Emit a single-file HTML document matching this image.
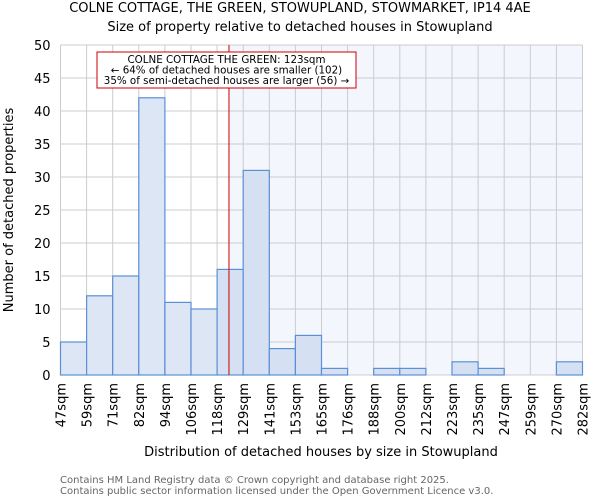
<!DOCTYPE html>
<html><head><meta charset="utf-8"><style>
body{margin:0;background:#fff;font-family:"DejaVu Sans","Liberation Sans",sans-serif}
</style></head><body>
<svg id="chart" width="600" height="500" viewBox="0 0 600 500" xmlns="http://www.w3.org/2000/svg" font-family="DejaVu Sans, Liberation Sans, sans-serif">
<text x="300" y="12" text-anchor="middle" font-size="13">COLNE COTTAGE, THE GREEN, STOWUPLAND, STOWMARKET, IP14 4AE</text>
<text x="300" y="31" text-anchor="middle" font-size="13">Size of property relative to detached houses in Stowupland</text>
<g id="plot"></g>
<text x="321" y="456" text-anchor="middle" font-size="13">Distribution of detached houses by size in Stowupland</text>
<text transform="translate(13,210) rotate(-90)" text-anchor="middle" font-size="13">Number of detached properties</text>
<text x="60" y="483" font-size="10" fill="#666">Contains HM Land Registry data © Crown copyright and database right 2025.</text>
<text x="60" y="494" font-size="10" fill="#666">Contains public sector information licensed under the Open Government Licence v3.0.</text>
</svg>
<script>
const binLabels=["47sqm","59sqm","71sqm","82sqm","94sqm","106sqm","118sqm","129sqm","141sqm","153sqm","165sqm","176sqm","188sqm","200sqm","212sqm","223sqm","235sqm","247sqm","259sqm","270sqm","282sqm"];
const binEdges=[47,59,71,82,94,106,118,129,141,153,165,176,188,200,212,223,235,247,259,270,282];
const counts=[5,12,15,42,11,10,16,31,4,6,1,0,1,1,0,2,1,0,0,2];
const yTicks=[0,5,10,15,20,25,30,35,40,45,50];
const subjectSize=123;
const X0=60.5,X1=582.5,Y0=375,Y1=45,YMAX=50;
const NS="http://www.w3.org/2000/svg";
const g=document.getElementById('plot');
const nb=counts.length,bw=(X1-X0)/nb;
const xi=i=>X0+i*bw;
function xv(v){for(let i=0;i<binEdges.length-1;i++){if(v<=binEdges[i+1])return xi(i)+(v-binEdges[i])/(binEdges[i+1]-binEdges[i])*bw;}return X1;}
const y=v=>Y0-(v/YMAX)*(Y0-Y1);
function el(t,a,p){const e=document.createElementNS(NS,t);for(const k in a)e.setAttribute(k,a[k]);(p||g).appendChild(e);return e;}
const lx=xv(subjectSize);
const bg=el('rect',{x:lx,y:Y1,width:X1-lx,height:Y0-Y1,fill:'#f3f6fd'});


for(let i=0;i<=nb;i++){const l=el('line',{x1:xi(i),x2:xi(i),y1:Y1,y2:Y0,stroke:'#cccccc'});

}
yTicks.forEach(t=>{const l=el('line',{x1:X0,x2:X1,y1:y(t),y2:y(t),stroke:'#cccccc'});


const tx=el('text',{x:X0-10,y:y(t)+5,'text-anchor':'end','font-size':13});tx.textContent=t;

});
counts.forEach((c,i)=>{if(c<=0)return;const r=el('rect',{x:xi(i),y:y(c),width:bw,height:Y0-y(c),fill:xi(i)+bw/2<lx?'#dce6f4':'#d5e1f3',stroke:'#5b8fd6','stroke-width':1.2});

});
binLabels.forEach((s,i)=>{const tx=el('text',{transform:`translate(${xi(i)+5},${Y0+8}) rotate(-90)`,'text-anchor':'end','font-size':13});tx.textContent=s;

});
const rl=el('line',{x1:lx,x2:lx,y1:Y1,y2:Y0,stroke:'#cc0000','stroke-width':1});


const box=el('rect',{x:97,y:52,width:259,height:36,fill:'#fff',stroke:'#cc0000','stroke-width':1});


["COLNE COTTAGE THE GREEN: 123sqm","← 64% of detached houses are smaller (102)","35% of semi-detached houses are larger (56) →"].forEach((s,i)=>{const tx=el('text',{x:226.5,y:63+i*10.5,'text-anchor':'middle','font-size':10.3});tx.textContent=s;

});
</script>
</body></html>
